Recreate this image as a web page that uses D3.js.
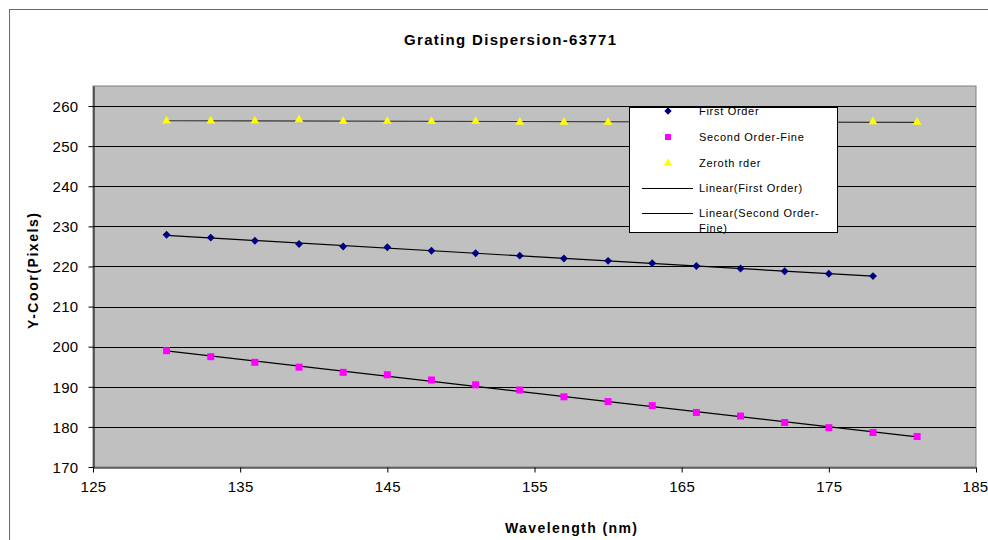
<!DOCTYPE html>
<html>
<head>
<meta charset="utf-8">
<script src="https://cdn.jsdelivr.net/npm/d3@7"></script>
<style>
  html, body { margin: 0; padding: 0; background: #fff; }
  svg { display: block; font-family: Arial, "Liberation Sans", sans-serif; }
</style>
</head>
<body>
<svg id="chart" width="988" height="540"></svg>
<script>
// Wavelength (nm) sample positions
const wavelengthsFirst  = [130,133,136,139,142,145,148,151,154,157,160,163,166,169,172,175,178];
const wavelengthsSecond = [130,133,136,139,142,145,148,151,154,157,160,163,166,169,172,175,178,181];
const wavelengthsZeroth = [130,133,136,139,142,145,148,151,154,157,160,163,166,169,172,175,178,181];

// Y-coordinate (pixels) measured on the detector
const firstOrder  = [227.9,227.2,226.4,225.6,225.0,224.8,223.9,223.3,222.7,222.0,221.4,220.8,220.1,219.5,218.8,218.2,217.6];
const secondOrder = [199.0,197.5,196.1,194.9,193.6,193.0,191.7,190.5,189.2,187.5,186.3,185.3,183.6,182.7,181.1,179.8,178.6,177.6];
const zerothOrder = [256.3,256.3,256.3,256.6,256.2,256.2,256.2,256.2,256.0,256.0,256.0,256.0,256.0,256.0,256.0,256.0,256.1,256.0];

const xTicks = [125,135,145,155,165,175,185];
const yTicks = [170,180,190,200,210,220,230,240,250,260];

const legendLabels = ["First Order", "Second Order-Fine", "Zeroth rder", "Linear(First Order)", "Linear(Second Order-", "Fine)"];

const svg = d3.select("#chart");

// chart area frame
svg.append("rect")
  .attr("x", 9.5).attr("y", 9.5)
  .attr("width", 1100).attr("height", 700)
  .attr("fill", "#fff").attr("stroke", "#6b6b6b").attr("stroke-width", 1);

const plot = { left: 93, right: 976, top: 86, bottom: 467 };

const x = d3.scaleLinear().domain([125, 185]).range([plot.left, plot.right]);
const y = d3.scaleLinear().domain([170, 265]).range([plot.bottom, plot.top]);

// plot background
svg.append("rect")
  .attr("x", plot.left).attr("y", plot.top)
  .attr("width", plot.right - plot.left).attr("height", plot.bottom - plot.top)
  .attr("fill", "#c0c0c0").attr("stroke", "#808080").attr("stroke-width", 1);

// horizontal gridlines
svg.append("g")
  .selectAll("line")
  .data(yTicks.filter(d => d > 170))
  .join("line")
  .attr("x1", plot.left).attr("x2", plot.right)
  .attr("y1", d => Math.round(y(d)) + 0.5).attr("y2", d => Math.round(y(d)) + 0.5)
  .attr("stroke", "#000").attr("stroke-width", 1);

// axes
const yAxis = svg.append("g")
  .attr("transform", `translate(${plot.left + 0.5},0)`)
  .call(d3.axisLeft(y).tickValues(yTicks).tickSize(5).tickPadding(10).tickSizeOuter(0));
const xAxis = svg.append("g")
  .attr("transform", `translate(0,${plot.bottom + 0.5})`)
  .call(d3.axisBottom(x).tickValues(xTicks).tickSize(5).tickPadding(8).tickSizeOuter(0));

[yAxis, xAxis].forEach(ax => {
  ax.select(".domain").attr("stroke", "#000");
  ax.selectAll(".tick line").attr("stroke", "#000");
  ax.selectAll(".tick text")
    .attr("fill", "#000")
    .style("font-size", "15px")
    .style("letter-spacing", "0.3px")
    .style("font-family", "Arial, 'Liberation Sans', sans-serif");
});
xAxis.selectAll(".tick text").attr("dy", "0.75em");
// keep the right-most wavelength label inside the frame
xAxis.selectAll(".tick text").filter(d => d === 185).attr("text-anchor", "end").attr("dx", "12");
yAxis.selectAll(".tick text").attr("dy", "0.35em");

// least-squares trend line
function fit(xs, ys) {
  const n = xs.length;
  const mx = d3.mean(xs), my = d3.mean(ys);
  let sxy = 0, sxx = 0;
  for (let i = 0; i < n; i++) { sxy += (xs[i] - mx) * (ys[i] - my); sxx += (xs[i] - mx) ** 2; }
  const b = sxy / sxx, a = my - b * mx;
  const x0 = d3.min(xs), x1 = d3.max(xs);
  return [[x0, a + b * x0], [x1, a + b * x1]];
}

const line = d3.line().x(d => x(d[0])).y(d => y(d[1]));
const trends = svg.append("g");
[[wavelengthsZeroth, zerothOrder, "#333"], [wavelengthsFirst, firstOrder, "#000"], [wavelengthsSecond, secondOrder, "#000"]]
  .forEach(([xs, ys, c]) => {
    trends.append("path").attr("d", line(fit(xs, ys)))
      .attr("fill", "none").attr("stroke", c).attr("stroke-width", 1.2);
  });

// markers
const pts = (xs, ys) => xs.map((v, i) => [v, ys[i]]);
const marks = svg.append("g");
marks.selectAll(".tri").data(pts(wavelengthsZeroth, zerothOrder)).join("path")
  .attr("transform", d => `translate(${x(d[0])},${y(d[1])})`)
  .attr("d", d3.symbol(d3.symbolTriangle, 34)())
  .attr("fill", "#ffff00");
marks.selectAll(".dia").data(pts(wavelengthsFirst, firstOrder)).join("path")
  .attr("transform", d => `translate(${x(d[0])},${y(d[1])}) rotate(45)`)
  .attr("d", "M-2.8,-2.8H2.8V2.8H-2.8Z")
  .attr("fill", "#000080");
marks.selectAll(".sq").data(pts(wavelengthsSecond, secondOrder)).join("rect")
  .attr("x", d => x(d[0]) - 3.5).attr("y", d => y(d[1]) - 3.5)
  .attr("width", 7).attr("height", 7)
  .attr("fill", "#ff00ff");

// legend
const lg = svg.append("g");
lg.append("rect").attr("x", 629.5).attr("y", 107.5).attr("width", 208).attr("height", 125)
  .attr("fill", "#fff").attr("stroke", "#000").attr("stroke-width", 1);
const rowY = [111, 137, 163, 188, 213, 228];
lg.selectAll("text").data(legendLabels).join("text")
  .attr("x", 699).attr("y", (d, i) => rowY[i]).attr("dy", "0.35em")
  .style("font-size", "11px").style("letter-spacing", "0.7px")
  .attr("fill", "#000").text(d => d);
lg.append("path").attr("transform", `translate(668,${rowY[0]}) rotate(45)`)
  .attr("d", "M-2.6,-2.6H2.6V2.6H-2.6Z").attr("fill", "#000080");
lg.append("rect").attr("x", 665).attr("y", rowY[1] - 3).attr("width", 6).attr("height", 6).attr("fill", "#ff00ff");
lg.append("path").attr("transform", `translate(668,${rowY[2]})`)
  .attr("d", d3.symbol(d3.symbolTriangle, 30)()).attr("fill", "#ffff00");
[rowY[3], rowY[4]].forEach(yy => {
  lg.append("line").attr("x1", 642).attr("x2", 693).attr("y1", yy + 0.5).attr("y2", yy + 0.5)
    .attr("stroke", "#000").attr("stroke-width", 1);
});

// titles
svg.append("text").attr("x", 510).attr("y", 45).attr("text-anchor", "middle")
  .style("font-size", "15px").style("font-weight", "bold")
  .attr("textLength", 212).attr("lengthAdjust", "spacing")
  .text("Grating Dispersion-63771");
svg.append("text").attr("x", 571).attr("y", 533).attr("text-anchor", "middle")
  .style("font-size", "14px").style("font-weight", "bold")
  .attr("textLength", 132).attr("lengthAdjust", "spacing")
  .text("Wavelength (nm)");
svg.append("text").attr("transform", "translate(38,271) rotate(-90)").attr("text-anchor", "middle")
  .style("font-size", "14px").style("font-weight", "bold")
  .attr("textLength", 116).attr("lengthAdjust", "spacing")
  .text("Y-Coor(Pixels)");
</script>
</body>
</html>
